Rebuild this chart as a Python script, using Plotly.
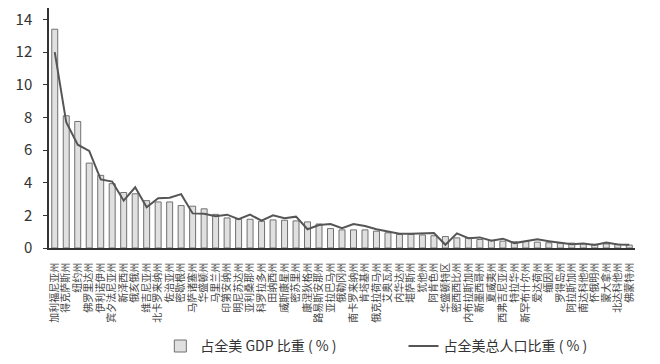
import plotly.graph_objects as go

states = ["加利福尼亚州", "得克萨斯州", "纽约州", "佛罗里达州", "伊利诺伊州", "宾夕法尼亚州",
          "新泽西州", "俄亥俄州", "维吉尼亚州", "北卡罗来纳州", "佐治亚州", "密歇根州",
          "马萨诸塞州", "华盛顿州", "马里兰州", "印第安纳州", "明尼苏达州", "亚利桑那州",
          "科罗拉多州", "田纳西州", "威斯康星州", "密苏里州", "康涅狄格州", "路易斯安那州",
          "亚拉巴马州", "俄勒冈州", "南卡罗来纳州", "肯塔基州", "俄克拉荷马州", "艾奥瓦州",
          "内华达州", "堪萨斯州", "犹他州", "阿肯色州", "华盛顿特区", "密西西比州",
          "内布拉斯加州", "新墨西哥州", "夏威夷州", "西弗吉尼亚州", "特拉华州", "新罕布什尔州",
          "爱达荷州", "缅因州", "罗得岛州", "阿拉斯加州", "南达科他州", "怀俄明州",
          "蒙大拿州", "北达科他州", "佛蒙特州"]

gdp_share = [13.4, 8.1, 7.75, 5.2, 4.45, 3.94, 3.4, 3.32, 2.9, 2.82,
             2.82, 2.6, 2.56, 2.4, 2.06, 1.84, 1.76, 1.76, 1.64, 1.72,
             1.7, 1.66, 1.6, 1.47, 1.19, 1.11, 1.11, 1.11, 1.03, 0.93,
             0.83, 0.83, 0.8, 0.75, 0.7, 0.62, 0.6, 0.52, 0.47, 0.42,
             0.38, 0.4, 0.36, 0.32, 0.3, 0.3, 0.27, 0.23, 0.25, 0.23,
             0.18]

pop_share = [12.0, 7.7, 6.33, 5.95, 4.2, 4.07, 2.9, 3.72, 2.5, 3.05,
             3.08, 3.3, 2.12, 2.1, 1.95, 2.04, 1.76, 2.04, 1.67, 2.0,
             1.82, 1.92, 1.15, 1.41, 1.47, 1.21, 1.47, 1.35, 1.15, 0.99,
             0.87, 0.87, 0.91, 0.92, 0.2, 0.9, 0.6, 0.65, 0.45, 0.57,
             0.3, 0.42, 0.53, 0.42, 0.33, 0.23, 0.27, 0.18, 0.33, 0.22,
             0.2]

y_ticks = [0, 2, 4, 6, 8, 10, 12, 14]

FONT = "Noto Sans CJK SC"

fig = go.Figure()
fig.add_trace(go.Bar(
    x=states, y=gdp_share, name="占全美 GDP 比重 ( % )",
    marker=dict(color="#e0e0e0", line=dict(color="#707070", width=1)),
    legend="legend", showlegend=True,
))
fig.add_trace(go.Scatter(
    x=states, y=pop_share, name="占全美总人口比重 ( % )",
    mode="lines", line=dict(color="#555555", width=2),
    legend="legend2", showlegend=True,
))

fig.update_layout(
    width=660, height=364,
    margin=dict(l=49, r=25, t=8, b=116, autoexpand=False),
    paper_bgcolor="white", plot_bgcolor="white",
    bargap=0.48,
    showlegend=True,
    font=dict(family=FONT, color="#333333"),
    legend=dict(orientation="h", x=0.19, xanchor="left", y=-0.41, yanchor="middle",
                font=dict(size=14, color="#333333", family=FONT), bgcolor="rgba(0,0,0,0)"),
    legend2=dict(orientation="h", x=0.605, xanchor="left", y=-0.41, yanchor="middle",
                 font=dict(size=14, color="#333333", family=FONT), bgcolor="rgba(0,0,0,0)"),
    xaxis=dict(
        type="category", range=[-0.5, len(states) - 0.5],
        tickmode="array", tickvals=states, ticktext=states,
        tickangle=-90, tickfont=dict(size=10, color="#444444", family=FONT),
        showline=True, linecolor="#333333", linewidth=1.5,
        showgrid=False, ticks="", ticklabelstandoff=9, automargin=False,
    ),
    yaxis=dict(
        range=[0, 14.7], tickvals=y_ticks,
        tickfont=dict(size=15, color="#333333", family=FONT),
        showline=True, linecolor="#333333", linewidth=1.5,
        showgrid=False, zeroline=False, automargin=False,
        ticks="outside", ticklen=4, tickcolor="#333333", ticklabelstandoff=8,
    ),
)

fig.write_html("out.html")
